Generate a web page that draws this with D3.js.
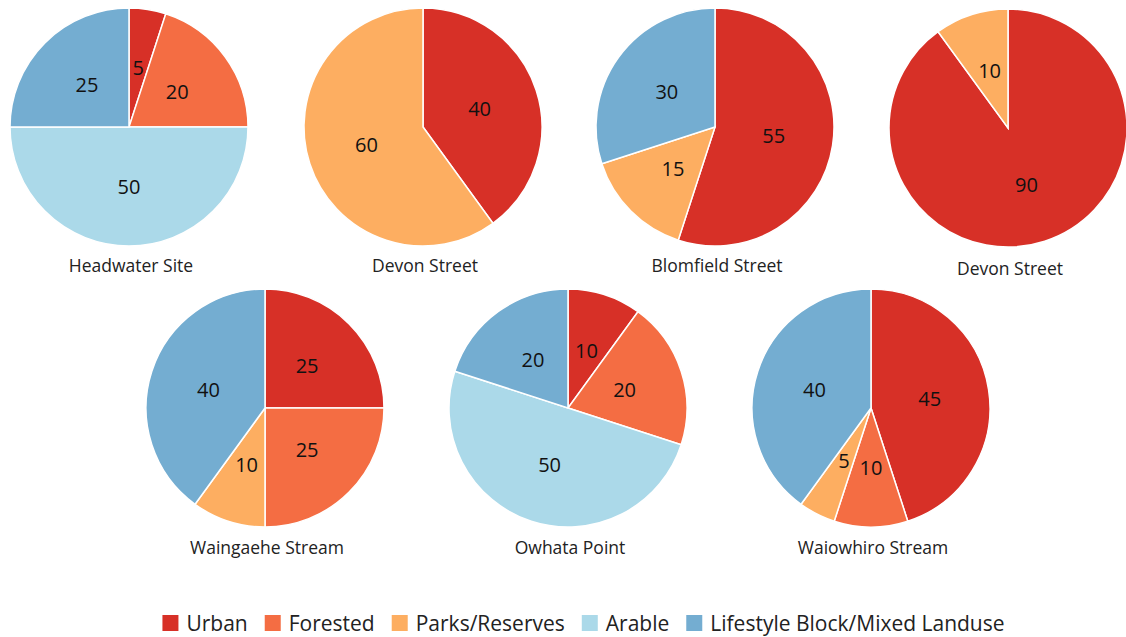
<!DOCTYPE html>
<html><head><meta charset="utf-8">
<script src="https://cdn.jsdelivr.net/npm/d3@7/dist/d3.min.js"></script>
<style>body{margin:0;background:#fff}svg{display:block}text{font-family:"Open Sans","Noto Sans",sans-serif}</style>
</head><body><svg id="c" width="1126" height="637"></svg>
<script>
const categories = ["Urban","Forested","Parks/Reserves","Arable","Lifestyle Block/Mixed Landuse"];
const colors = ["#d73027","#f46d43","#fdae61","#abd9e9","#74add1"];
const sites = ["Headwater Site","Devon Street","Blomfield Street","Devon Street","Waingaehe Stream","Owhata Point","Waiowhiro Stream"];
const headwater = [5,20,0,50,25];
const devon1 = [40,0,60,0,0];
const blomfield = [55,0,15,0,30];
const devon2 = [90,0,10,0,0];
const waingaehe = [25,25,10,0,40];
const owhata = [10,20,0,50,20];
const waiowhiro = [45,10,5,0,40];
const seriesValues = [headwater,devon1,blomfield,devon2,waingaehe,owhata,waiowhiro];

const svg = d3.select("#c");
const R = 119;
const centers = [[129,127],[423,127],[715,127],[1008,128],[265,408],[568,408],[871,408]];
const titleDy = [145,145,145,147,146,146,146];
const pie = d3.pie().sort(null).value(d=>d);
const arc = d3.arc().innerRadius(0).outerRadius(R);
const color = d3.scaleOrdinal().domain(categories).range(colors);

seriesValues.forEach((vals,i)=>{
  const g = svg.append("g").attr("transform",`translate(${centers[i][0]},${centers[i][1]})`);
  const data = pie(vals).map((d,k)=>({...d,cat:categories[k]})).filter(d=>d.value>0);
  g.selectAll("path").data(data).join("path")
    .attr("d",arc).attr("fill",d=>color(d.cat))
    .attr("stroke","#fff").attr("stroke-width",1.5);
  g.selectAll("text.lbl").data(data).join("text").attr("class","lbl")
    .attr("transform",d=>{const c=arc.centroid(d);return `translate(${c[0]},${c[1]})`;})
    .attr("text-anchor","middle").attr("dy","0.35em")
    .attr("font-size",20).attr("fill","#111").text(d=>d.value);
  g.append("text").attr("x",2).attr("y",titleDy[i]).attr("text-anchor","middle")
    .attr("font-size",17.5).attr("fill","#222").text(sites[i]);
});

// legend
const lg = svg.append("g");
const items = lg.selectAll("g").data(categories).join("g");
items.append("rect").attr("width",16).attr("height",16).attr("y",-16).attr("fill",d=>color(d));
items.append("text").attr("x",24).attr("y",0).attr("font-size",21).attr("fill","#222").text(d=>d);
let x = 0; const widths=[];
items.each(function(){widths.push(this.getBBox().width);});
items.attr("transform",(d,k)=>{const t=`translate(${x},0)`; x+=widths[k]+17; return t;});
const total = x-17;
lg.attr("transform",`translate(${(155+1012)/2 - total/2},631)`);
</script></body></html>
